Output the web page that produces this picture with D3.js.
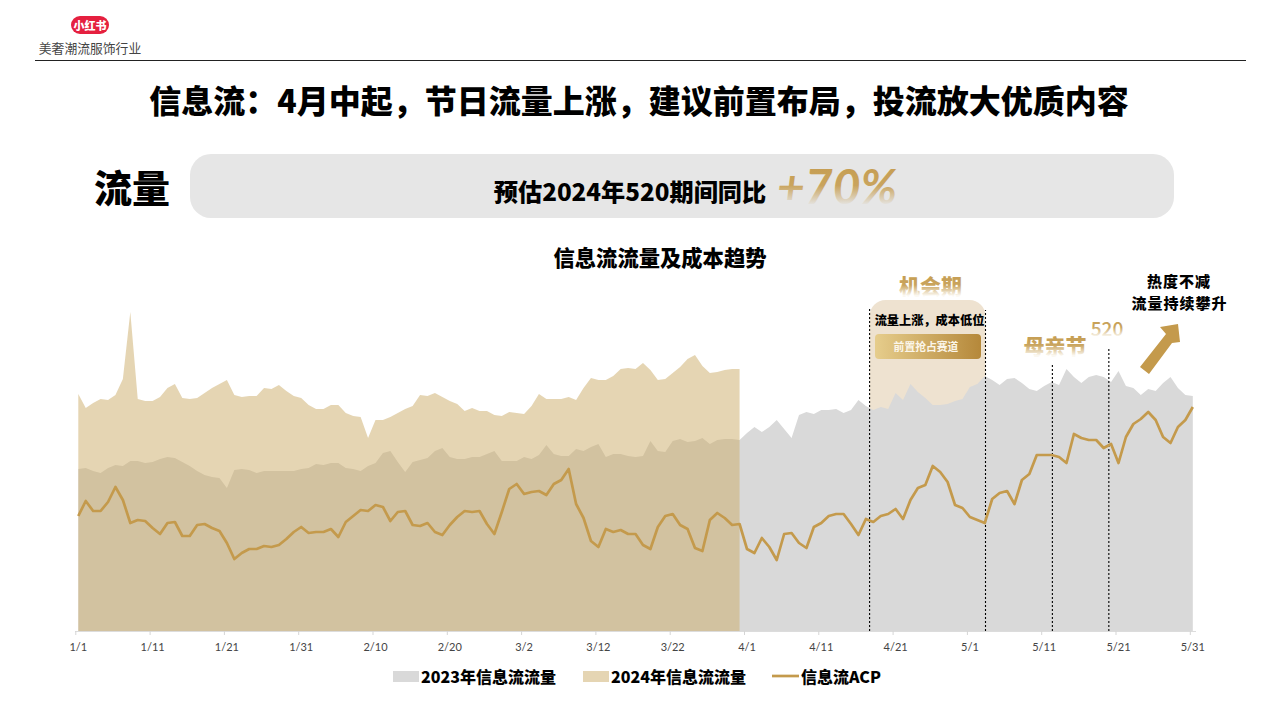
<!DOCTYPE html>
<html>
<head>
<meta charset="utf-8">
<script src="https://cdn.jsdelivr.net/npm/d3@7"></script>
<style>
body { margin: 0; background: #fff; }
text { font-family: "Noto Sans CJK SC", sans-serif; }
</style>
</head>
<body>
<div id="chart"></div>
<script>
var tickLabels = ["1/1", "1/11", "1/21", "1/31", "2/10", "2/20", "3/2", "3/12", "3/22", "4/1", "4/11", "4/21", "5/1", "5/11", "5/21", "5/31"]

// values, one per day (no axis in the original so units are relative)
var flow2023 = [162, 163, 160, 158, 163, 166, 165, 170, 170, 168, 169, 172, 174, 173, 169, 165, 160, 156, 154, 153, 143, 161, 162, 161, 158, 160, 160, 160, 160, 160, 162, 163, 167, 166, 168, 168, 163, 162, 160, 165, 168, 178, 180, 169,
    159, 169, 171, 173, 180, 183, 174, 172, 172, 174, 174, 177, 180, 170, 170, 170, 174, 172, 176, 186, 177, 175, 175, 182, 180, 184, 187, 174, 177, 177, 175, 174, 175, 190, 180, 179, 190, 192, 189, 190, 193, 187, 191, 192, 192, 191,
    198, 204, 199, 204, 211, 202, 193, 216, 219, 217, 221, 221, 222, 218, 221, 231, 225, 221, 224, 222, 238, 231, 247, 239, 233, 226, 226, 227, 230, 232, 244, 247, 255,
    251, 246, 252, 253, 248, 242, 240, 245, 249, 246, 262, 254, 248, 254, 256, 254, 249, 260, 245, 243, 236, 242, 240, 248, 254, 243, 236, 235]

var flow2024 = [237, 223, 228, 232, 231, 236, 252, 319, 232, 230, 230, 234, 243, 247, 233, 232, 233, 238, 243, 247, 251, 236, 234, 235, 235, 243, 242, 246, 240, 235, 233, 226, 222, 222, 226, 226, 218, 215, 214, 193, 211, 211, 214, 218,
    222, 225, 236, 235, 238, 234, 230, 227, 220, 223, 220, 220, 216, 215, 219, 218, 217, 225, 237, 232, 232, 232, 234, 231, 243, 253, 251, 251, 255, 262, 263, 262, 268, 261, 251, 252, 258, 264, 272, 276, 265, 258, 259, 261, 262, 262]

var acp = [115, 130, 120, 120, 129, 144, 131, 108, 111, 110, 103, 97, 108, 109, 95, 95, 106, 107, 103, 100, 88, 72, 78, 82, 82, 85, 84, 86, 92, 99, 104, 98, 99, 99, 102, 94, 109, 115, 121, 120, 126, 124, 110, 119,
    120, 106, 105, 108, 99, 96, 106, 114, 120, 119, 120, 107, 97, 119, 142, 147, 137, 139, 140, 136, 147, 151, 162, 127, 113, 90, 84, 102, 99, 101, 97, 97, 86, 82, 104, 115, 117, 106, 102, 83, 80, 111, 118, 113, 106, 107,
    82, 78, 93, 84, 71, 97, 98, 88, 83, 104, 108, 115, 117, 117, 107, 96, 112, 109, 115, 117, 122, 112, 131, 143, 146, 165, 159, 149, 126, 123, 114, 111, 108,
    132, 138, 140, 127, 151, 157, 176, 176, 176, 174, 168, 197, 193, 191, 191, 183, 187, 168, 194, 207, 212, 219, 211, 194, 188, 204, 211, 224]

// dotted markers: day index and the value where each line stops
var markerDays = [106.5, 122.1, 131.1, 138.7]
var markerTops = [322, 321, 268, 282]

var legendNames = ["2023年信息流流量", "2024年信息流流量", "信息流ACP"]

var gold = "#c49a4c"

var svg = d3.select("#chart").append("svg")
    .attr("width", 1280)
    .attr("height", 720)
    .style("display", "block")

var defs = svg.append("defs")

function fadeGradient(id, bottom) {
    var g = defs.append("linearGradient").attr("id", id)
        .attr("x1", 0).attr("y1", 0).attr("x2", 0).attr("y2", 1)
    g.append("stop").attr("offset", "0%").attr("stop-color", "#c49a4c")
    g.append("stop").attr("offset", "50%").attr("stop-color", "#c9a45e")
    g.append("stop").attr("offset", "85%").attr("stop-color", bottom)
    g.append("stop").attr("offset", "100%").attr("stop-color", bottom)
}
fadeGradient("fadeWhite", "#fbf8f1")
fadeGradient("fadeGrey", "#e6e6e6")

var btnGrad = defs.append("linearGradient").attr("id", "btnGrad")
btnGrad.append("stop").attr("offset", "0%").attr("stop-color", "#e6cd8c")
btnGrad.append("stop").attr("offset", "100%").attr("stop-color", "#b5883a")

function label(txt, x, y, size, opts) {
    opts = opts || {}
    return svg.append("text")
        .attr("x", x)
        .attr("y", y)
        .attr("text-anchor", opts.anchor || "middle")
        .attr("dominant-baseline", "central")
        .attr("font-size", size)
        .attr("font-weight", opts.weight || 700)
        .attr("fill", opts.fill || "#000")
        .text(txt)
}

// header
svg.append("rect").attr("x", 71).attr("y", 16).attr("width", 38).attr("height", 18).attr("rx", 9).attr("fill", "#e5203f")
label("小红书", 90, 25, 11, { fill: "#fff", weight: 900 })
label("美奢潮流服饰行业", 90, 47, 12.8, { fill: "#444", weight: 400 })
svg.append("line").attr("x1", 35).attr("x2", 1246).attr("y1", 60.5).attr("y2", 60.5).attr("stroke", "#222").attr("stroke-width", 1)

label("信息流：4月中起，节日流量上涨，建议前置布局，投流放大优质内容", 639, 98.5, 32, { weight: 900 })

label("流量", 132, 185, 38, { weight: 900 })
svg.append("rect").attr("x", 190).attr("y", 154).attr("width", 984).attr("height", 64).attr("rx", 21).attr("fill", "#e6e6e6")
label("预估2024年520期间同比", 630, 190.5, 24.2, { weight: 900 })
svg.append("text").attr("x", 777).attr("y", 204)
    .attr("font-size", 48)
    .attr("font-weight", 700)
    .attr("font-style", "italic")
    .attr("fill", "url(#fadeGrey)")
    .style("font-family", "Lato")
    .text("+70%")

label("信息流流量及成本趋势", 660, 256.5, 21.3, { weight: 900 })

// chart
var x = d3.scaleLinear().domain([0, 150]).range([78.3, 1192.8])
var y = d3.scaleLinear().domain([0, 322]).range([631, 309])

var area = d3.area()
    .x(function (d, i) { return x(i) })
    .y0(y(0))
    .y1(function (d) { return y(d) })

var line = d3.line()
    .x(function (d, i) { return x(i) })
    .y(function (d) { return y(d) })

// opportunity panel sits behind the areas
var panelL = x(markerDays[0])
var panelR = x(markerDays[1])
svg.append("path")
    .attr("d", "M" + panelL + ",440V316a16,16 0 0 1 16,-16H" + (panelR - 16) + "a16,16 0 0 1 16,16V440Z")
    .attr("fill", "#eee2d0")

svg.append("path").datum(flow2023).attr("d", area).attr("fill", "#d9d9d9")
svg.append("path").datum(flow2024).attr("d", area).attr("fill", "#cbab67").attr("fill-opacity", 0.5)

markerDays.forEach(function (d, i) {
    svg.append("line")
        .attr("x1", x(d)).attr("x2", x(d))
        .attr("y1", y(0)).attr("y2", y(markerTops[i]))
        .attr("stroke", "#000")
        .attr("stroke-width", 1.1)
        .attr("stroke-dasharray", "2,2")
})

svg.append("path").datum(acp).attr("d", line)
    .attr("fill", "none")
    .attr("stroke", gold)
    .attr("stroke-width", 2.7)
    .attr("stroke-linejoin", "round")

var axis = d3.axisBottom(x)
    .tickValues(d3.range(0, 151, 10))
    .tickFormat(function (d, i) { return tickLabels[i] })
    .tickSize(4)
    .tickSizeOuter(0)

var axisG = svg.append("g").attr("transform", "translate(0," + y(0) + ")").call(axis)
axisG.select(".domain").attr("stroke", "#dcdcdc").attr("d", "M75,0.5H1196")
axisG.selectAll(".tick line").attr("stroke", "#d5d5d5").attr("x1", -3).attr("x2", -3)
axisG.selectAll(".tick text")
    .attr("x", -0.5)
    .attr("y", 12)
    .attr("fill", "#444")
    .style("font-family", "Lato")
    .style("font-size", "11px")

// annotations
label("机会期", 930.5, 285, 21, { fill: "url(#fadeWhite)", weight: 900 })
label("流量上涨，成本低位", 929.5, 320, 12.2, { weight: 900 })
svg.append("rect").attr("x", 875).attr("y", 334).attr("width", 106).attr("height", 25).attr("rx", 4).attr("fill", "url(#btnGrad)")
label("前置抢占赛道", 926, 346, 10.8, { fill: "#fbf6ea", weight: 700 })
label("母亲节", 1055, 345, 21, { fill: "url(#fadeWhite)", weight: 900 })
label("520", 1107, 327, 19, { fill: "url(#fadeWhite)", weight: 500 })

// 15px with 1px spacing keeps the width of the original lines
label("热度不减", 1179, 280, 15, { weight: 900 }).attr("letter-spacing", 1)
label("流量持续攀升", 1179.5, 302, 15, { weight: 900 }).attr("letter-spacing", 1)

svg.append("path")
    .attr("d", "M1140,367L1166,334L1160,327L1178,324L1180,342L1172,343L1149,374Z")
    .attr("fill", gold)

// legend
var legendY = 676
svg.append("rect").attr("x", 393).attr("y", legendY - 5).attr("width", 26).attr("height", 11).attr("fill", "#d9d9d9")
label(legendNames[0], 421, legendY - 0.5, 16, { anchor: "start", weight: 900 })
svg.append("rect").attr("x", 583).attr("y", legendY - 5).attr("width", 26).attr("height", 11).attr("fill", "#e5d5b3")
label(legendNames[1], 611, legendY - 0.5, 16, { anchor: "start", weight: 900 })
svg.append("line").attr("x1", 772).attr("x2", 799).attr("y1", legendY).attr("y2", legendY).attr("stroke", gold).attr("stroke-width", 2.7)
label(legendNames[2], 801, legendY - 0.5, 16, { anchor: "start", weight: 900 })
</script>
</body>
</html>
